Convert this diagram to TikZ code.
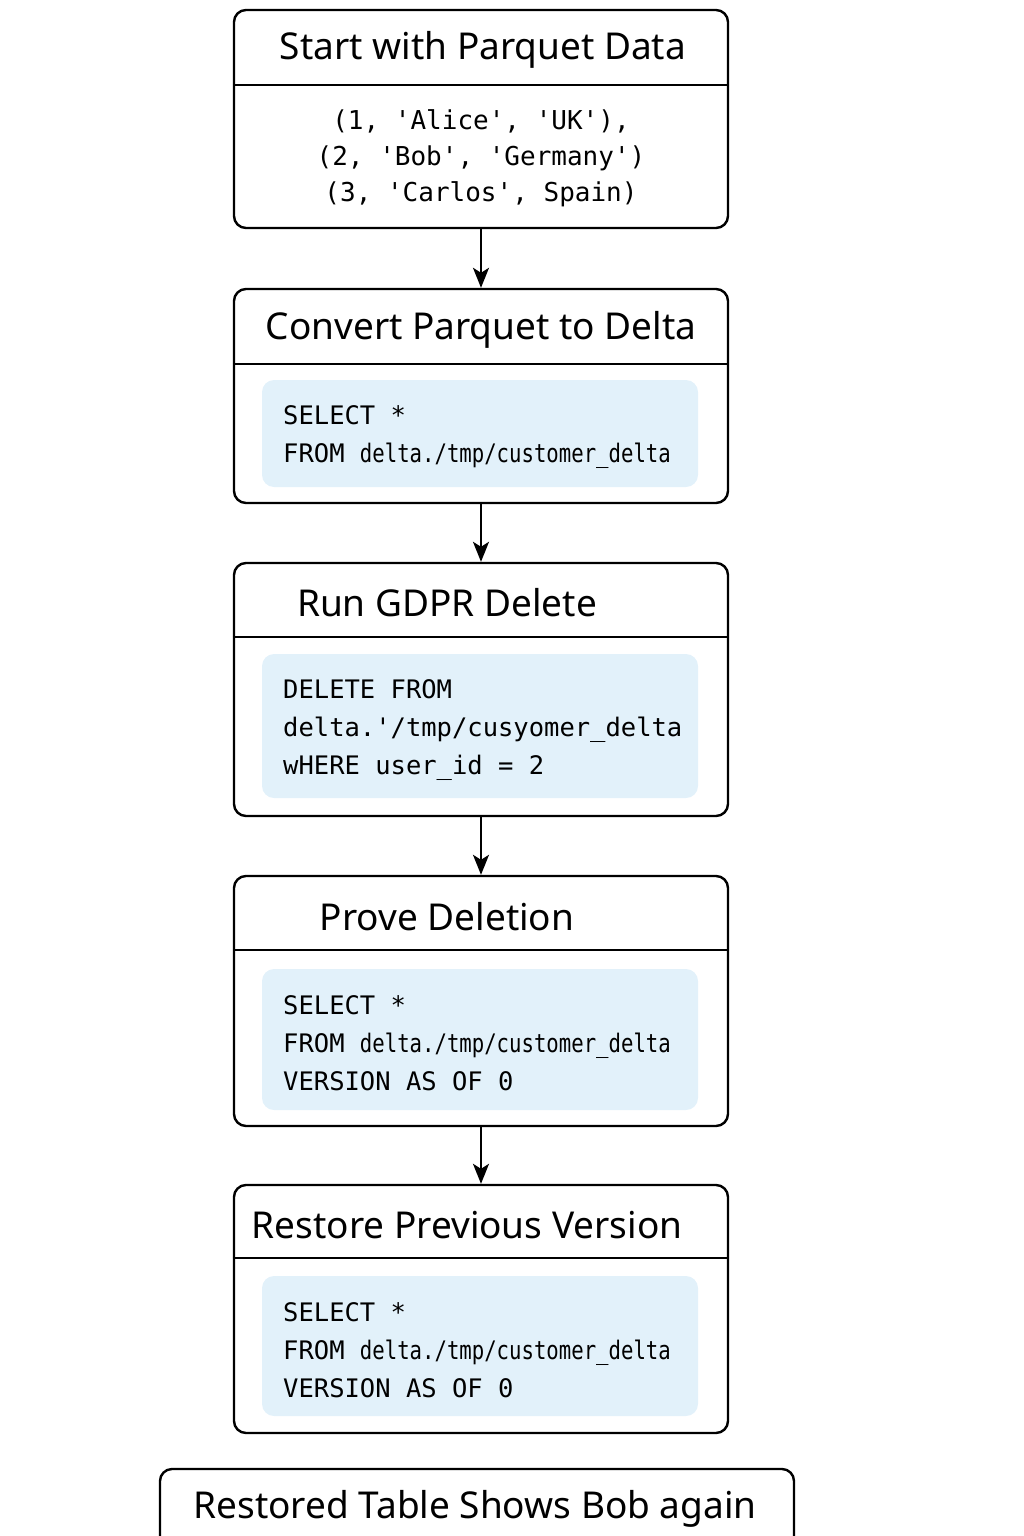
\documentclass[tikz,border=0pt]{standalone}
\usepackage{fontspec}
\setmainfont{Noto Sans}
\setmonofont{DejaVu Sans Mono}
\usepackage{tikz}
\usetikzlibrary{arrows.meta}
\definecolor{codebg}{RGB}{226,241,250}
\begin{document}
\begin{tikzpicture}[x=1pt,y=-1pt,
  stepbox/.style={draw,line width=2.4pt,rounded corners=12pt,inner sep=0pt,minimum width=494pt},
  codebox/.style={fill=codebg,rounded corners=12pt,inner sep=0pt,minimum width=436pt},
  title/.style={font=\fontsize{37}{40}\selectfont},
  code/.style={font=\fontsize{25.5}{38}\selectfont\ttfamily,align=left,anchor=west,inner sep=0pt},
  arr/.style={line width=2.2pt,-{Stealth[length=20pt,width=16pt,inset=5pt]}}]
\useasboundingbox (0,0) rectangle (1024,1536);
\node[stepbox,minimum height=218pt] (start) at (481,119) {};
\node[stepbox,minimum height=214pt] (convert) at (481,396) {};
\node[stepbox,minimum height=253pt] (gdpr) at (481,689.5) {};
\node[stepbox,minimum height=250pt] (prove) at (481,1001) {};
\node[stepbox,minimum height=248pt] (restore) at (481,1309) {};
\node[stepbox,minimum width=634pt,minimum height=130pt] (restored) at (477,1534) {};
\foreach \n/\y in {start/85,convert/364,gdpr/637,prove/950,restore/1258}
	\draw[line width=1.8pt] (\n.west |- 0,\y) -- (\n.east |- 0,\y);
\node[codebox,minimum height=107pt] (convertcode) at (480,433.5) {};
\node[codebox,minimum height=144pt] (gdprcode) at (480,726) {};
\node[codebox,minimum height=141pt] (provecode) at (480,1039.5) {};
\node[codebox,minimum height=140pt] (restorecode) at (480,1346) {};
\node[title] (starttitle) at (483,50) {Start with Parquet Data};
\node[title] (converttitle) at (481,330) {Convert Parquet to Delta};
\node[title] (gdprtitle) at (447,603) {Run GDPR Delete};
\node[title] (provetitle) at (447,917) {Prove Deletion};
\node[title] (restoretitle) at (467,1225) {Restore Previous Version};
\node[title] (restoredtitle) at (475,1509) {Restored Table Shows Bob again};
\node[code,align=center,anchor=center,font=\fontsize{26}{36}\selectfont\ttfamily] (startdata) at (481,158)
	{(1, 'Alice', 'UK'),\\(2, 'Bob', 'Germany')\\(3, 'Carlos', Spain)};
\node[code] (convertsql) at (283,437)
	{SELECT *\\FROM \scalebox{0.81}[1]{delta./tmp/customer\_delta}};
\node[code] (gdprsql) at (283,730)
	{DELETE FROM\\delta.'/tmp/cusyomer\_delta\\wHERE user\_id = 2};
\node[code] (provesql) at (283,1043)
	{SELECT *\\FROM \scalebox{0.81}[1]{delta./tmp/customer\_delta}\\VERSION AS OF 0};
\node[code] (restoresql) at (283,1350)
	{SELECT *\\FROM \scalebox{0.81}[1]{delta./tmp/customer\_delta}\\VERSION AS OF 0};
\foreach \a/\b in {start/convert,convert/gdpr,gdpr/prove,prove/restore}
	\draw[arr] (\a) -- (\b);
\end{tikzpicture}
\end{document}
